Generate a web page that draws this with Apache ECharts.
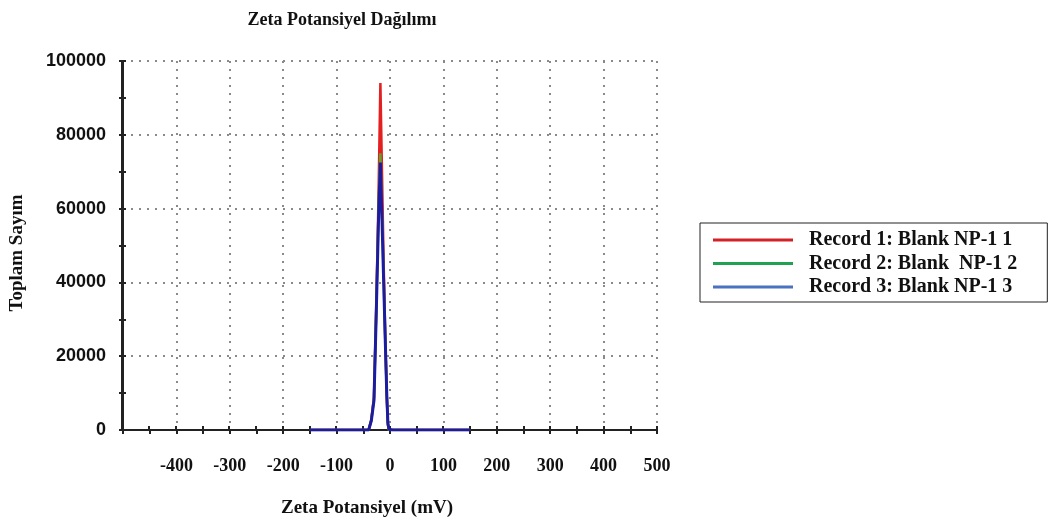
<!DOCTYPE html>
<html>
<head>
<meta charset="utf-8">
<script src="https://cdn.jsdelivr.net/npm/echarts@6/dist/echarts.min.js"></script>
<style>html,body{margin:0;padding:0;background:#fff;}#c{width:1053px;height:526px;}</style>
</head>
<body>
<div id="c"></div>
<script>
const titleText = 'Zeta Potansiyel Dağılımı';
const xName = 'Zeta Potansiyel (mV)';
const yName = 'Toplam Sayım';
const seriesNames = ['Record 1: Blank NP-1 1', 'Record 2: Blank  NP-1 2', 'Record 3: Blank NP-1 3'];
// zeta potential (mV)
const zeta = [-150, -100, -60, -45, -40, -35, -30, -26, -23, -21, -18, -15, -12, -9, -6, -4, -2, 0, 5, 50, 100, 150];
// total counts
const record1 = [0, 0, 0, 0, 0, 2800, 9000, 32000, 52000, 68000, 94000, 70000, 46000, 26000, 9000, 1500, 0, 0, 0, 0, 0, 0];
const record2 = [0, 0, 0, 0, 0, 2600, 8500, 31000, 50000, 63000, 75000, 59000, 42000, 25000, 9000, 1500, 0, 0, 0, 0, 0, 0];
const record3 = [0, 0, 0, 0, 0, 2500, 8000, 30000, 48000, 60000, 72500, 57000, 41000, 25000, 9500, 2000, 200, 0, 0, 0, 0, 0];
const xTicks = [-500, 500, 100];
const yTicks = [0, 100000, 20000];

const lineColors = ['#e41f1f', '#5ba52c', '#1c1ca0'];
const legendColors = ['#d42027', '#1fa352', '#4a72c0'];
const serif = '"Liberation Serif", "Times New Roman", serif';
const sans = '"Liberation Sans", Arial, sans-serif';

function pairs(ys) { return zeta.map((x, i) => [x, ys[i]]); }

const chart = echarts.init(document.getElementById('c'), null, {renderer: 'canvas'});
const gridLine = {show: true, lineStyle: {color: '#8a8a8a', width: 2, type: [2, 6]}};
const tickStyle = {color: '#222', width: 2};
const gridRect = {left: 122, right: 396, top: 61, bottom: 96};
chart.setOption({
  animation: false,
  backgroundColor: '#fff',
  title: {
    text: titleText, left: 337, top: 6, textAlign: 'center',
    textStyle: {fontFamily: serif, fontWeight: 'bold', fontSize: 18, color: '#111'}
  },
  legend: {
    orient: 'vertical', left: 700, top: 223,
    icon: 'rect', itemWidth: 80, itemHeight: 3, itemGap: 3.5,
    padding: [7, 30, 5, 13],
    borderColor: '#222', borderWidth: 1,
    textStyle: {fontFamily: serif, fontWeight: 'bold', fontSize: 20, color: '#111', lineHeight: 20, padding: [0, 0, 0, 11]},
    data: seriesNames.map((n, i) => ({name: n, itemStyle: {color: legendColors[i]}, lineStyle: {color: legendColors[i]}}))
  },
  grid: [Object.assign({}, gridRect), Object.assign({}, gridRect)],
  xAxis: [{
    gridIndex: 0, type: 'value', min: xTicks[0], max: xTicks[1], interval: xTicks[2],
    name: xName, nameLocation: 'middle', nameGap: 69,
    nameTextStyle: {fontFamily: serif, fontWeight: 'bold', fontSize: 19, color: '#111', padding: [0, 46, 0, 0]},
    axisLine: {show: true, onZero: false, lineStyle: {color: '#222', width: 2}},
    axisTick: {show: true, length: 4, lineStyle: tickStyle},
    minorTick: {show: true, splitNumber: 2, length: 4, lineStyle: tickStyle},
    axisLabel: {margin: 27, fontFamily: serif, fontWeight: 'bold', fontSize: 18, color: '#111',
      formatter: v => (v === xTicks[0] ? '' : String(v))},
    splitLine: gridLine
  }, {
    gridIndex: 1, type: 'value', min: xTicks[0], max: xTicks[1], interval: xTicks[2], position: 'bottom',
    axisLine: {show: true, onZero: false, lineStyle: {color: '#222', width: 2}},
    axisTick: {show: true, inside: true, length: 4, lineStyle: tickStyle},
    minorTick: {show: true, splitNumber: 2, length: 4, lineStyle: tickStyle},
    axisLabel: {show: false}, splitLine: {show: false}
  }],
  yAxis: [{
    gridIndex: 0, type: 'value', min: yTicks[0], max: yTicks[1], interval: yTicks[2],
    name: yName, nameLocation: 'middle', nameGap: 96, nameRotate: 90,
    nameTextStyle: {fontFamily: serif, fontWeight: 'bold', fontSize: 19, color: '#111', padding: [0, 15, 0, 0]},
    axisLine: {show: true, onZero: false, lineStyle: {color: '#222', width: 2}},
    axisTick: {show: true, length: 4, lineStyle: tickStyle},
    minorTick: {show: true, splitNumber: 2, length: 4, lineStyle: tickStyle},
    axisLabel: {margin: 17, fontFamily: sans, fontWeight: 'bold', fontSize: 18, color: '#111', formatter: v => String(v)},
    splitLine: gridLine
  }, {
    gridIndex: 1, type: 'value', min: yTicks[0], max: yTicks[1], interval: yTicks[2], position: 'left',
    axisLine: {show: true, onZero: false, lineStyle: {color: '#222', width: 2}},
    axisTick: {show: true, inside: true, length: 4, lineStyle: tickStyle},
    minorTick: {show: true, splitNumber: 2, length: 4, lineStyle: tickStyle},
    axisLabel: {show: false}, splitLine: {show: false}
  }],
  series: [record1, record2, record3].map((d, i) => ({
    name: seriesNames[i], type: 'line', data: pairs(d), showSymbol: false, symbol: 'none',
    xAxisIndex: 0, yAxisIndex: 0,
    lineStyle: {color: lineColors[i], width: i === 2 ? 3 : 2.5},
    itemStyle: {color: lineColors[i]}, z: 3 + i
  }))
});
</script>
</body>
</html>
